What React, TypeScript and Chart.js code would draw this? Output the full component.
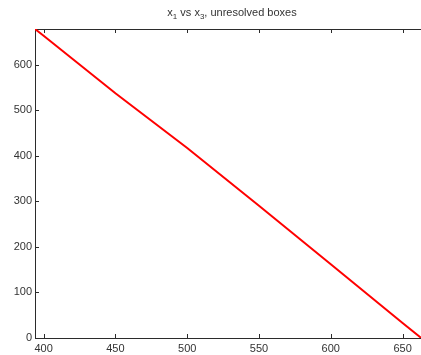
import React, { useEffect, useRef } from "react";
import { Chart, registerables } from "chart.js";

Chart.register(...registerables);

// Data
const xValues = [394, 400, 450, 500, 550, 600, 650, 663];
const yValues = [678, 663, 537, 417, 290, 162, 33, 0];
const xTicks = [400, 450, 500, 550, 600, 650];
const yTicks = [0, 100, 200, 300, 400, 500, 600];
const titleParts: { text: string; sub: boolean }[] = [
  { text: "x", sub: false },
  { text: "1", sub: true },
  { text: " vs x", sub: false },
  { text: "3", sub: true },
  { text: ", unresolved boxes", sub: false },
];

const AXIS_COLOR = "#2b2b2b";
const TEXT_COLOR = "#333333";
const FONT_FAMILY = "'Liberation Sans', Arial, Helvetica, sans-serif";

const boxPlugin = {
  id: "matlabBox",
  beforeDatasetsDraw(chart: any) {
    const { ctx, chartArea } = chart;
    const { left, right, top, bottom } = chartArea;
    const xs = chart.scales.x;
    const ys = chart.scales.y;
    const tl = 4;
    ctx.save();
    ctx.strokeStyle = AXIS_COLOR;
    ctx.lineWidth = 1;
    ctx.beginPath();
    ctx.rect(Math.round(left) + 0.5, Math.round(top) + 0.5, Math.round(right - left), Math.round(bottom - top));
    ctx.stroke();
    ctx.beginPath();
    for (const v of xTicks) {
      const px = Math.round(xs.getPixelForValue(v)) + 0.5;
      ctx.moveTo(px, bottom);
      ctx.lineTo(px, bottom - tl);
      ctx.moveTo(px, top);
      ctx.lineTo(px, top + tl);
    }
    for (const v of yTicks) {
      const py = Math.round(ys.getPixelForValue(v)) + 0.5;
      ctx.moveTo(left, py);
      ctx.lineTo(left + tl, py);
      ctx.moveTo(right, py);
      ctx.lineTo(right - tl, py);
    }
    ctx.stroke();
    ctx.restore();
  },
  afterDraw(chart: any) {
    const { ctx, chartArea } = chart;
    const mainFont = "11px " + FONT_FAMILY;
    const subFont = "8px " + FONT_FAMILY;
    ctx.save();
    ctx.fillStyle = TEXT_COLOR;
    ctx.textBaseline = "alphabetic";
    let total = 0;
    for (const p of titleParts) {
      ctx.font = p.sub ? subFont : mainFont;
      total += ctx.measureText(p.text).width;
    }
    let x = (chartArea.left + chartArea.right) / 2 - total / 2;
    const baseY = 16;
    for (const p of titleParts) {
      ctx.font = p.sub ? subFont : mainFont;
      ctx.fillText(p.text, x, p.sub ? baseY + 3 : baseY);
      x += ctx.measureText(p.text).width;
    }
    ctx.restore();
  },
};

export default function App() {
  const ref = useRef<HTMLCanvasElement | null>(null);
  useEffect(() => {
    if (!ref.current) return;
    const chart = new Chart(ref.current, {
      type: "line",
      data: {
        datasets: [
          {
            data: xValues.map((x, i) => ({ x, y: yValues[i] })),
            borderColor: "#ff0000",
            backgroundColor: "#ff0000",
            borderWidth: 2,
            pointRadius: 0,
            tension: 0,
            fill: false,
          },
        ],
      },
      options: {
        animation: false,
        responsive: false,
        layout: { padding: { top: 29, right: 1, left: 0, bottom: 0 } },
        plugins: {
          legend: { display: false },
          title: { display: false },
          tooltip: { enabled: false },
        },
        scales: {
          x: {
            type: "linear",
            min: 394,
            max: 668.4,
            afterBuildTicks: (s: any) => {
              s.ticks = xTicks.map((v) => ({ value: v }));
            },
            afterFit: (s: any) => {
              s.height = 17;
            },
            grid: { display: false, drawTicks: false },
            border: { display: false },
            ticks: {
              color: TEXT_COLOR,
              font: { size: 11, family: FONT_FAMILY },
              padding: 4,
              maxRotation: 0,
              autoSkip: false,
            },
          },
          y: {
            type: "linear",
            min: 0,
            max: 678,
            afterBuildTicks: (s: any) => {
              s.ticks = yTicks.map((v) => ({ value: v }));
            },
            afterFit: (s: any) => {
              s.width = 35;
            },
            grid: { display: false, drawTicks: false },
            border: { display: false },
            ticks: {
              color: TEXT_COLOR,
              font: { size: 11, family: FONT_FAMILY },
              padding: 3,
              autoSkip: false,
            },
          },
        },
      },
      plugins: [boxPlugin],
    });
    return () => chart.destroy();
  }, []);
  return (
    <div style={{ position: "fixed", left: 0, top: 0, width: 421, height: 355, overflow: "hidden", background: "#fff" }}>
      <canvas ref={ref} width={430} height={355} style={{ width: 430, height: 355, display: "block" }} />
    </div>
  );
}
